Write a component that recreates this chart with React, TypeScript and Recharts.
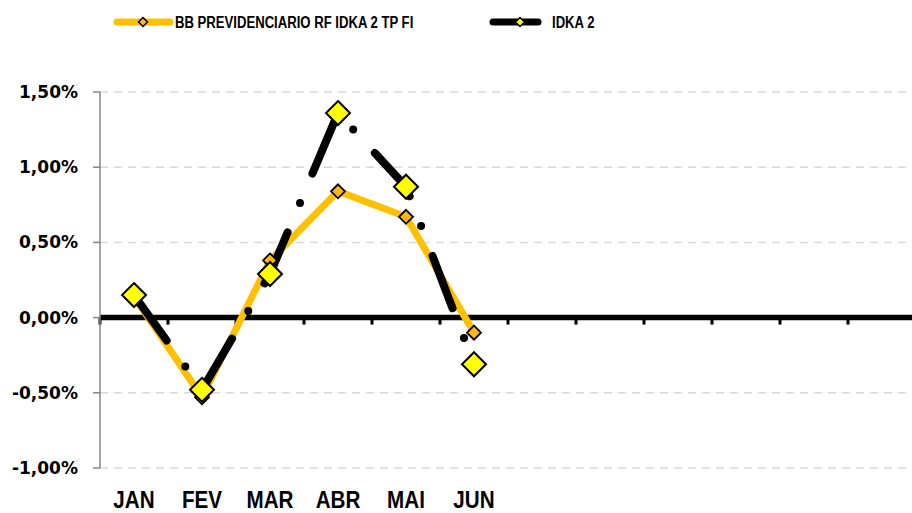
import React from 'react';
import { LineChart, Line, XAxis, YAxis, CartesianGrid, ReferenceLine, Legend } from 'recharts';

// ---- data ----
const months = ['JAN', 'FEV', 'MAR', 'ABR', 'MAI', 'JUN', '', '', '', '', '', ''];
const bbValues = [0.14, -0.53, 0.38, 0.84, 0.67, -0.1];
const idkaValues = [0.15, -0.48, 0.29, 1.36, 0.87, -0.31];
const yTicks = [-1, -0.5, 0, 0.5, 1, 1.5];
const seriesNames = ['BB PREVIDENCIARIO RF IDKA 2 TP FI', 'IDKA 2'];

const data = months.map((m, i) => ({
  month: m,
  bb: i < bbValues.length ? bbValues[i] : null,
  idka: i < idkaValues.length ? idkaValues[i] : null,
}));

// ---- styles ----
const SANS = "'Liberation Sans', Arial, sans-serif";
const ORANGE = '#FFC000';
const ORANGE_MARK = '#FDB813';
const YELLOW = '#FFFF00';
const PLOT_W = 816;
const HALF_BAND = PLOT_W / months.length / 2;

const fmtPct = (v: number) => v.toFixed(2).replace('.', ',') + '%';

const Diamond = ({ cx, cy, r, fill, sw }: any) => (
  <path
    d={`M${cx},${cy - r}L${cx + r},${cy}L${cx},${cy + r}L${cx - r},${cy}Z`}
    fill={fill}
    stroke="#000"
    strokeWidth={sw}
    strokeLinejoin="miter"
  />
);

const makeDot = (r: number, fill: string, sw: number) => (p: any) => {
  if (p.cx == null || p.cy == null || p.value == null || (Array.isArray(p.value) && p.value[1] == null)) {
    return <g key={`e-${p.index}`} />;
  }
  return <Diamond key={`d-${p.index}`} cx={p.cx} cy={p.cy} r={r} fill={fill} sw={sw} />;
};

const ZeroLine = (props: any) => {
  const { x1, y1, x2, y2 } = props;
  const n = months.length;
  const step = (x2 - x1) / n;
  const ticks = [];
  for (let k = 0; k < n; k++) {
    const x = x1 + k * step;
    ticks.push(<line key={k} x1={x} y1={y1} x2={x} y2={y1 + 7} stroke="#000" strokeWidth={3} />);
  }
  return (
    <g>
      {ticks}
      <line x1={x1} y1={y1} x2={x2} y2={y2} stroke="#000" strokeWidth={5.5} />
    </g>
  );
};

const MonthTick = (props: any) => {
  const { x, y, payload } = props;
  return (
    <g transform={`translate(${x},${y}) scale(0.86,1)`}>
      <text x={0} y={15} textAnchor="middle" fontFamily={SANS} fontWeight="bold" fontSize={24} fill="#000">
        {payload.value}
      </text>
    </g>
  );
};

const legendLayout = [
  { l1: 117, l2: 170, tx: 175, r: 4.5, fill: ORANGE_MARK, line: ORANGE, mx: 143 },
  { l1: 493, l2: 538, tx: 552, r: 4.5, fill: YELLOW, line: '#000', mx: 520 },
];

const LegendContent = () => (
  <svg width={912} height={45} style={{ display: 'block' }}>
    {seriesNames.map((name, i) => {
      const L = legendLayout[i];
      return (
        <g key={name}>
          <line x1={L.l1} y1={22} x2={L.l2} y2={22} stroke={L.line} strokeWidth={7} strokeLinecap="round" />
          <Diamond cx={L.mx} cy={22} r={L.r} fill={L.fill} sw={1.5} />
          <g transform={`translate(${L.tx},28) scale(0.82,1)`}>
            <text x={0} y={0} fontFamily={SANS} fontWeight="bold" fontSize={16} fill="#000">
              {name}
            </text>
          </g>
        </g>
      );
    })}
  </svg>
);

export default function App() {
  return (
    <div style={{ position: 'absolute', left: 0, top: 0, width: 912, height: 513, background: '#fff' }}>
      <LineChart width={912} height={513} data={data} margin={{ top: 47, right: -4, bottom: 0, left: 0 }}>
        <Legend
          verticalAlign="top"
          align="left"
          height={45}
          content={<LegendContent />}
          wrapperStyle={{ top: 0, left: 0, width: 912, height: 45 }}
        />
        <CartesianGrid vertical={false} stroke="#d9d9d9" strokeDasharray="8 6" strokeWidth={1.5} />
        <XAxis
          dataKey="month"
          padding={{ left: HALF_BAND, right: HALF_BAND }}
          axisLine={false}
          tickLine={false}
          tickSize={0}
          tickMargin={25}
          height={45}
          interval={0}
          tick={<MonthTick />}
        />
        <YAxis
          width={100}
          domain={[-1, 1.5]}
          ticks={yTicks}
          interval={0}
          tickFormatter={fmtPct}
          axisLine={{ stroke: '#868686', strokeWidth: 1.5 }}
          tickLine={{ stroke: '#868686', strokeWidth: 1.5 }}
          tickSize={7}
          tickMargin={15}
          tick={{ fill: '#000', fontFamily: 'DejaVu Sans', fontWeight: 'bold', fontSize: 17 }}
        />
        <ReferenceLine y={0} shape={ZeroLine} />
        <Line
          name={seriesNames[0]}
          dataKey="bb"
          stroke={ORANGE}
          strokeWidth={7}
          strokeLinejoin="round"
          dot={makeDot(7, ORANGE_MARK, 1.8)}
          activeDot={false}
          isAnimationActive={false}
          connectNulls={false}
        />
        <Line
          name={seriesNames[1]}
          dataKey="idka"
          stroke="#000"
          strokeWidth={8}
          strokeLinecap="round"
          strokeDasharray="56 32 0 32"
          dot={makeDot(12, YELLOW, 2)}
          activeDot={false}
          isAnimationActive={false}
          connectNulls={false}
        />
      </LineChart>
    </div>
  );
}
